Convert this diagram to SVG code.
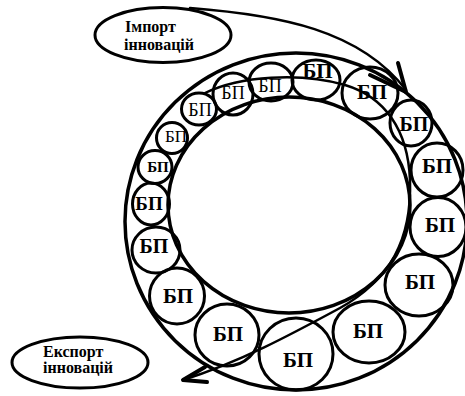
<svg xmlns="http://www.w3.org/2000/svg" width="465" height="396" viewBox="0 0 465 396">
<defs>
<style>
.ring{fill:none;stroke:#000;stroke-width:3.5}
.bp{fill:none;stroke:#000;stroke-width:3}
.lbl{fill:none;stroke:#000;stroke-width:3}
text{font-family:"Liberation Serif","DejaVu Serif",serif;fill:#000}
.tb{font-weight:700;text-anchor:middle}
.tr{font-weight:400;text-anchor:middle}
.tl{font-weight:700;font-size:16px}
.con{fill:none;stroke:#000;stroke-width:2.5;stroke-linecap:round;stroke-linejoin:round}
.head{fill:none;stroke:#000;stroke-width:4;stroke-linecap:round;stroke-linejoin:round}
</style>
</defs>
<rect width="465" height="396" fill="#fff"/>
<g id="ring">
<ellipse class="ring" cx="296" cy="221.5" rx="171" ry="168.5"/>
<ellipse class="ring" cx="289" cy="205" rx="121" ry="108"/>
</g>
<g id="bp1"><ellipse class="bp" cx="316" cy="80" rx="24" ry="20"/><text class="tb" x="317.5" y="78" font-size="21">БП</text></g>
<g id="bp2"><ellipse class="bp" cx="271" cy="82" rx="22" ry="19"/><text class="tr" x="270" y="92" font-size="18">БП</text></g>
<g id="bp3"><ellipse class="bp" cx="233" cy="94" rx="20" ry="21"/><text class="tr" x="233" y="99" font-size="18">БП</text></g>
<g id="bp4"><ellipse class="bp" cx="199" cy="109" rx="17.5" ry="16"/><text class="tr" x="200" y="116" font-size="18">БП</text></g>
<g id="bp5"><ellipse class="bp" cx="172" cy="138" rx="15.5" ry="15.5"/><text class="tr" x="176" y="142" font-size="17">БП</text></g>
<g id="bp6"><ellipse class="bp" cx="155" cy="167" rx="17" ry="16.5"/><text class="tb" x="158" y="172" font-size="15">БП</text></g>
<g id="bp7"><ellipse class="bp" cx="151" cy="204" rx="18.5" ry="21"/><text class="tb" x="149" y="210" font-size="19">БП</text></g>
<g id="bp8"><ellipse class="bp" cx="156" cy="250" rx="24" ry="23"/><text class="tb" x="154" y="253" font-size="20">БП</text></g>
<g id="bp9"><ellipse class="bp" cx="177" cy="296" rx="27.5" ry="28"/><text class="tb" x="178" y="303" font-size="21">БП</text></g>
<g id="bp10"><ellipse class="bp" cx="227" cy="335" rx="32" ry="31"/><text class="tb" x="228" y="341" font-size="21">БП</text></g>
<g id="bp11"><ellipse class="bp" cx="296" cy="354" rx="37" ry="36"/><text class="tb" x="298" y="367" font-size="21">БП</text></g>
<g id="bp12"><ellipse class="bp" cx="369" cy="332" rx="36" ry="31"/><text class="tb" x="368" y="338" font-size="21">БП</text></g>
<g id="bp13"><ellipse class="bp" cx="419" cy="285" rx="34" ry="31"/><text class="tb" x="420" y="289" font-size="21">БП</text></g>
<g id="bp14"><ellipse class="bp" cx="438" cy="227" rx="28" ry="29.5"/><text class="tb" x="440" y="232" font-size="21">БП</text></g>
<g id="bp15"><ellipse class="bp" cx="437" cy="170" rx="26" ry="27"/><text class="tb" x="437" y="173" font-size="21">БП</text></g>
<g id="bp16"><ellipse class="bp" cx="411" cy="123" rx="21" ry="23"/><text class="tb" x="414" y="131" font-size="20">БП</text></g>
<g id="bp17"><ellipse class="bp" cx="370" cy="93" rx="28" ry="26"/><text class="tb" x="372" y="99" font-size="21">БП</text></g>
<g id="import"><ellipse class="lbl" cx="163" cy="35" rx="68" ry="27.5"/><text class="tl" x="125" y="32">Імпорт</text><text class="tl" x="124" y="50">інновацій</text></g>
<g id="export"><ellipse class="lbl" cx="80" cy="362.5" rx="68" ry="25.5"/><text class="tl" x="43" y="357">Експорт</text><text class="tl" x="43" y="373">інновацій</text></g>
<g id="connectors">
<path class="con" stroke-width="2" d="M190,8 C280,15 360,30 406,90"/>
<path class="head" d="M398,63 L406,92 L370,75"/>
<path class="con" d="M205,93 C240,76 300,72 345,85 C385,97 408,130 410,180 C412,240 390,280 340,308 C290,335 240,362 183,380"/>
<path class="head" d="M205,367 L183,380 L207,382"/>
</g>
</svg>
